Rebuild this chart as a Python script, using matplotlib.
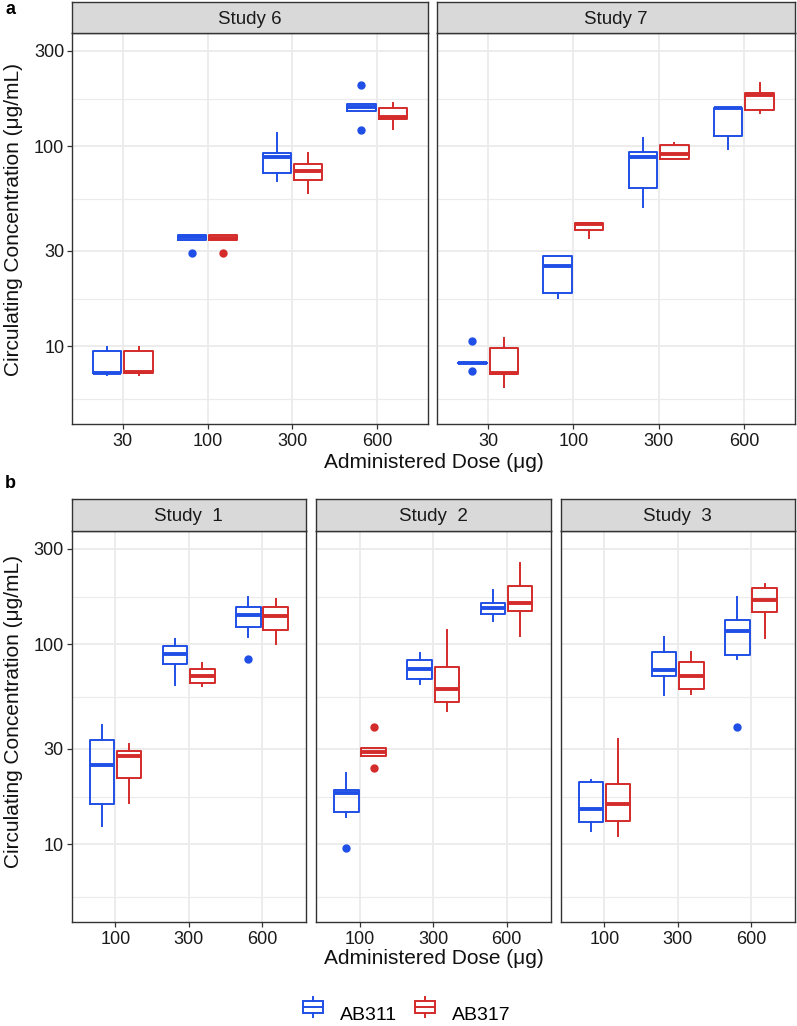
import matplotlib
matplotlib.use("Agg")
import matplotlib.pyplot as plt
from matplotlib.legend_handler import HandlerBase
from matplotlib.lines import Line2D
from matplotlib.patches import Rectangle

plt.rcParams['font.family'] = ['Liberation Sans', 'DejaVu Sans']

# ---------------- data (whislo, q1, med, q3, whishi) ----------------
doses_a = ["30", "100", "300", "600"]
doses_b = ["100", "300", "600"]
groups = ["AB311", "AB317"]

s6_ab311 = [(7.2, 7.35, 7.4, 9.45, 9.9), (34.2, 34.2, 35.1, 36.2, 36.2),
            (67.2, 73.5, 88.7, 92.3, 117.0), (150.8, 150.8, 158.0, 162.2, 162.2)]
s6_ab311_out = [[], [29.2], [], [202.0, 121.0]]
s6_ab317 = [(7.2, 7.35, 7.45, 9.45, 9.9), (34.2, 34.2, 34.8, 36.2, 36.2),
            (58.5, 67.6, 75.5, 81.3, 92.3), (121.7, 137.4, 140.6, 155.0, 164.0)]
s6_ab317_out = [[], [29.2], [], []]

s7_ab311 = [(8.28, 8.28, 8.28, 8.28, 8.28), (17.4, 18.6, 25.2, 28.2, 28.4),
            (50.0, 62.0, 88.7, 93.7, 110.4), (96.6, 112.6, 154.5, 155.5, 155.5)]
s7_ab311_out = [[10.7, 7.56], [], [], []]
s7_ab317 = [(6.3, 7.26, 7.35, 9.8, 11.0), (35.0, 38.2, 40.8, 41.6, 41.6),
            (86.4, 86.4, 91.8, 101.9, 103.5), (146.8, 152.0, 181.0, 184.0, 207.0)]
s7_ab317_out = [[], [], [], []]

s1_ab311 = [(12.4, 15.9, 25.0, 33.2, 39.5), (62.5, 79.3, 89.3, 97.9, 106.4),
            (109.0, 121.9, 140.3, 153.9, 172.6)]
s1_ab311_out = [[], [], [84.3]]
s1_ab317 = [(16.1, 21.6, 27.7, 29.2, 31.7), (61.8, 64.2, 69.3, 75.0, 80.5),
            (100.0, 118.0, 138.8, 153.1, 167.6)]
s1_ab317_out = [[], [], []]

s2_ab311 = [(13.75, 14.6, 18.0, 18.7, 22.8), (63.2, 66.7, 75.2, 83.1, 90.6),
            (130.5, 142.0, 151.0, 160.0, 186.0)]
s2_ab311_out = [[9.55], [], []]
s2_ab317 = [(27.7, 27.7, 28.9, 30.2, 30.2), (46.2, 51.2, 59.8, 76.9, 117.7),
            (109.8, 146.5, 161.0, 194.7, 253.6)]
s2_ab317_out = [[38.4, 24.0], [], []]

s3_ab311 = [(11.7, 12.9, 15.0, 20.5, 21.1), (55.5, 69.6, 74.3, 92.0, 109.0),
            (84.0, 88.3, 115.9, 132.2, 172.6)]
s3_ab311_out = [[], [], [38.4]]
s3_ab317 = [(11.0, 13.1, 16.0, 20.1, 33.5), (56.6, 59.9, 69.1, 81.1, 91.5),
            (108.0, 145.0, 165.6, 191.6, 200.0)]
s3_ab317_out = [[], [], []]

y_major = [10, 30, 100, 300]
y_minor = [5.48, 17.3, 54.8, 173.2]

# ---------------- style ----------------
W, H = 797, 1026
BLUE = "#1f4fe6"
RED = "#d42b2b"
COLORS = [BLUE, RED]
GRID = "#ebebeb"
BORDER = "#333333"
STRIP = "#d9d9d9"
YLIM = (4.1, 368)

fig = plt.figure(figsize=(W / 100, H / 100), dpi=100)


def rect(x0, y0, x1, y1):
    return [x0 / W, 1 - y1 / H, (x1 - x0) / W, (y1 - y0) / H]


def make_stats(rows, outs):
    res = []
    for (lo, q1, med, q3, hi), fl in zip(rows, outs):
        res.append(dict(whislo=lo, q1=q1, med=med, q3=q3, whishi=hi, fliers=fl))
    return res


def panel(box, strip_box, title, cats, series, show_y):
    ax = fig.add_axes(rect(*box))
    sax = fig.add_axes(rect(*strip_box))
    sax.set_facecolor(STRIP)
    sax.set_xticks([]); sax.set_yticks([])
    for sp in sax.spines.values():
        sp.set_color(BORDER); sp.set_linewidth(1.0)
    sax.text(0.5, 0.45, title, ha="center", va="center", fontsize=13.5,
             color="#1a1a1a", transform=sax.transAxes)

    ax.set_yscale("log")
    ax.set_ylim(*YLIM)
    n = len(cats)
    ax.set_xlim(-0.6, n - 1 + 0.6)
    for v in y_minor:
        ax.axhline(v, color=GRID, lw=0.8, zorder=0)
    for v in y_major:
        ax.axhline(v, color=GRID, lw=1.3, zorder=0)
    for i in range(n):
        ax.axvline(i, color=GRID, lw=1.3, zorder=0)

    offsets = [-0.185, 0.185]
    for k, (rows, outs) in enumerate(series):
        c = COLORS[k]
        pos = [i + offsets[k] for i in range(n)]
        ax.bxp(make_stats(rows, outs), positions=pos, widths=0.335,
               showcaps=False, patch_artist=False,
               boxprops=dict(color=c, lw=1.4),
               whiskerprops=dict(color=c, lw=1.4),
               medianprops=dict(color=c, lw=2.8, solid_capstyle="butt"),
               flierprops=dict(marker="o", markerfacecolor=c, markeredgecolor=c,
                               markersize=5, linestyle="none"),
               manage_ticks=False)

    ax.set_xticks(range(n))
    ax.set_xticklabels(cats, fontsize=13, color="#1a1a1a")
    ax.minorticks_off()
    ax.set_yticks(y_major)
    if show_y:
        ax.set_yticklabels([str(v) for v in y_major], fontsize=13, color="#1a1a1a")
        ax.tick_params(axis="y", length=3.5, width=0.9, color=BORDER, pad=2)
    else:
        ax.set_yticklabels([])
        ax.tick_params(axis="y", length=0)
    ax.tick_params(axis="x", length=3.5, width=0.9, color=BORDER, pad=3)
    ax.yaxis.set_minor_locator(matplotlib.ticker.NullLocator())
    for sp in ax.spines.values():
        sp.set_color(BORDER); sp.set_linewidth(1.0)
    return ax


# panel a
panel((72, 33, 428, 424), (72, 2, 428, 33), "Study 6", doses_a,
      [(s6_ab311, s6_ab311_out), (s6_ab317, s6_ab317_out)], True)
panel((437, 33, 795, 424), (437, 2, 795, 33), "Study 7", doses_a,
      [(s7_ab311, s7_ab311_out), (s7_ab317, s7_ab317_out)], False)

# panel b
panel((71.5, 531, 306, 922), (71.5, 499, 306, 531), "Study  1", doses_b,
      [(s1_ab311, s1_ab311_out), (s1_ab317, s1_ab317_out)], True)
panel((316, 531, 550.5, 922), (316, 499, 550.5, 531), "Study  2", doses_b,
      [(s2_ab311, s2_ab311_out), (s2_ab317, s2_ab317_out)], False)
panel((560.5, 531, 795, 922), (560.5, 499, 795, 531), "Study  3", doses_b,
      [(s3_ab311, s3_ab311_out), (s3_ab317, s3_ab317_out)], False)

# axis titles
ylab = "Circulating Concentration (μg/mL)"
xlab = "Administered Dose (μg)"
fig.text(14 / W, 1 - 219 / H, ylab, rotation=90, ha="center", va="center",
         fontsize=15, color="#111111")
fig.text(14 / W, 1 - 711 / H, ylab, rotation=90, ha="center", va="center",
         fontsize=15, color="#111111")
fig.text(433.5 / W, 1 - 463 / H, xlab, ha="center", va="center",
         fontsize=15, color="#111111")
fig.text(433.5 / W, 1 - 958 / H, xlab, ha="center", va="center",
         fontsize=15, color="#111111")

# panel letters
fig.text(5 / W, 1 - 10 / H, "a", fontsize=13, fontweight="bold", ha="left", va="center")
fig.text(5 / W, 1 - 484 / H, "b", fontsize=13, fontweight="bold", ha="left", va="center")


# legend with boxplot glyphs
class BoxHandler(HandlerBase):
    def create_artists(self, legend, orig, xd, yd, width, height, fontsize, trans):
        c = orig.get_color()
        cx = xd + width / 2
        bw = width * 0.95
        bh = height * 0.57
        ymid = yd + height / 2
        r = Rectangle((cx - bw / 2, ymid - bh / 2), bw, bh,
                      fill=False, edgecolor=c, lw=1.4, transform=trans)
        med = Line2D([cx - bw / 2, cx + bw / 2], [ymid] * 2,
                     color=c, lw=1.4, transform=trans)
        w1 = Line2D([cx, cx], [yd, ymid - bh / 2],
                    color=c, lw=1.4, transform=trans)
        w2 = Line2D([cx, cx], [ymid + bh / 2, yd + height],
                    color=c, lw=1.4, transform=trans)
        return [r, med, w1, w2]


handles = [Line2D([], [], color=COLORS[k]) for k in range(2)]
fig.legend(handles, groups, handler_map={Line2D: BoxHandler()},
           loc="center", bbox_to_anchor=(406.5 / W, 1 - 1014 / H), ncol=2,
           frameon=False, fontsize=14, handlelength=1.1, handleheight=1.2,
           columnspacing=0.85, handletextpad=0.85, borderpad=0.2)

fig.savefig("out.png", dpi=100)
